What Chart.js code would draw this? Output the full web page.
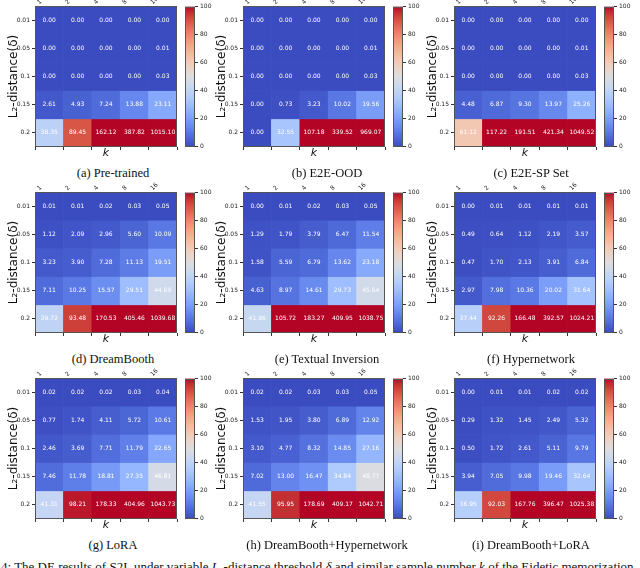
<!DOCTYPE html>
<html><head><meta charset="utf-8">
<script src="https://cdn.jsdelivr.net/npm/chart.js@4.4.0/dist/chart.umd.min.js"></script>
<style>
body{margin:0;width:640px;height:568px;overflow:hidden;background:#fff;position:relative;}
canvas{position:absolute;}
.cap{position:absolute;font-family:'Liberation Serif','Times New Roman',serif;font-size:12.5px;line-height:14px;color:#111;white-space:nowrap;transform:translateX(-50%);}
.main{position:absolute;left:1px;top:560px;font-family:'Liberation Serif','Times New Roman',serif;font-size:13px;line-height:14px;color:#111;white-space:nowrap;}
</style></head><body>
<script>
// ---------- data ----------
const kLabels = ['1','2','4','8','16'];
const deltaLabels = ['0.01','0.05','0.1','0.15','0.2'];
const colorbarTicks = [0,20,40,60,80,100];

const preTrained = [
 [0.00,0.00,0.00,0.00,0.00],
 [0.00,0.00,0.00,0.00,0.01],
 [0.00,0.00,0.00,0.00,0.03],
 [2.61,4.93,7.24,13.88,23.11],
 [38.35,89.45,162.12,387.82,1015.10]];
const e2eOOD = [
 [0.00,0.00,0.00,0.00,0.00],
 [0.00,0.00,0.00,0.00,0.01],
 [0.00,0.00,0.00,0.00,0.03],
 [0.00,0.73,3.23,10.02,19.56],
 [0.00,32.55,107.18,339.52,969.07]];
const e2eSPSet = [
 [0.00,0.00,0.00,0.00,0.00],
 [0.00,0.00,0.00,0.00,0.01],
 [0.00,0.00,0.00,0.00,0.03],
 [4.48,6.87,9.30,13.97,25.26],
 [61.12,117.22,191.51,421.34,1049.52]];
const dreamBooth = [
 [0.01,0.01,0.02,0.03,0.05],
 [1.12,2.09,2.96,5.60,10.09],
 [3.23,3.90,7.28,11.13,19.51],
 [7.11,10.25,15.57,29.51,44.69],
 [39.72,93.48,170.53,405.46,1039.68]];
const textualInversion = [
 [0.00,0.01,0.02,0.03,0.05],
 [1.29,1.79,3.79,6.47,11.54],
 [1.58,5.59,6.79,13.62,23.18],
 [4.63,8.97,14.61,29.73,45.64],
 [41.96,105.72,183.27,409.95,1038.75]];
const hypernetwork = [
 [0.00,0.01,0.01,0.01,0.01],
 [0.49,0.64,1.12,2.19,3.57],
 [0.47,1.70,2.13,3.91,6.84],
 [2.97,7.98,10.36,20.02,31.64],
 [37.44,92.26,166.48,392.57,1024.21]];
const loRA = [
 [0.02,0.02,0.02,0.03,0.04],
 [0.77,1.74,4.11,5.72,10.61],
 [2.46,3.69,7.71,11.79,22.65],
 [7.46,11.78,18.81,27.35,46.81],
 [41.31,98.21,178.33,404.96,1043.73]];
const dreamBoothHyper = [
 [0.02,0.02,0.03,0.03,0.05],
 [1.53,1.95,3.80,6.89,12.92],
 [3.10,4.77,8.32,14.85,27.16],
 [7.02,13.00,16.47,34.84,48.77],
 [41.55,95.95,178.69,409.17,1042.71]];
const dreamBoothLoRA = [
 [0.00,0.01,0.01,0.02,0.02],
 [0.29,1.32,1.45,2.49,5.32],
 [0.50,1.72,2.61,5.11,9.79],
 [3.94,7.05,9.98,19.46,32.64],
 [36.95,92.03,167.76,396.47,1025.38]];

const panelTitles = ['(a) Pre-trained','(b) E2E-OOD','(c) E2E-SP Set',
  '(d) DreamBooth','(e) Textual Inversion','(f) Hypernetwork',
  '(g) LoRA','(h) DreamBooth+Hypernetwork','(i) DreamBooth+LoRA'];
const panelValues = [preTrained,e2eOOD,e2eSPSet,dreamBooth,textualInversion,hypernetwork,loRA,dreamBoothHyper,dreamBoothLoRA];

// ---------- layout ----------
const colLeft = [35,243,454];
const rowTop = [6,192,378];
const capCenter = [113,327,531];
const HM_W = 142, HM_H = 141;

// matplotlib coolwarm (Moreland) control points
const CW = [[59,76,192],[68,90,204],[77,104,215],[87,117,225],[98,130,234],[108,142,241],[119,154,247],[130,165,251],[141,176,254],[152,185,255],[163,194,255],[174,201,253],[184,208,249],[194,213,244],[204,217,238],[213,219,230],[221,221,221],[229,216,209],[236,211,197],[241,204,185],[245,196,173],[247,187,160],[247,177,148],[247,166,135],[244,154,123],[241,141,111],[236,127,99],[229,112,88],[222,96,77],[213,80,66],[203,62,56],[192,40,47],[180,4,38]];
function coolwarm(v){
  const lo = colorbarTicks[0], hi = colorbarTicks[colorbarTicks.length-1];
  let t = (v-lo)/(hi-lo); t = Math.max(0,Math.min(1,t));
  const p = t*(CW.length-1); const i = Math.min(CW.length-2, Math.floor(p)); const f = p-i;
  const c = CW[i].map((a,k)=>Math.round(a+(CW[i+1][k]-a)*f));
  return `rgb(${c[0]},${c[1]},${c[2]})`;
}

const framePlugin = { id:'frame', afterDatasetsDraw(chart){
  const c = chart.ctx, a = chart.chartArea;
  c.save();
  if (chart.config.options.cellText) {
    c.font = '6px "DejaVu Sans"'; c.fillStyle = '#ffffff'; c.textAlign = 'center'; c.textBaseline = 'middle';
    chart.data.datasets.forEach((ds,i)=>{
      chart.getDatasetMeta(i).data.forEach((el,j)=>{
        c.fillText(ds.values[j].toFixed(2), el.x, (el.y+el.base)/2);
      });
    });
  }
  c.strokeStyle = '#555'; c.lineWidth = 1;
  c.strokeRect(Math.round(a.left)+0.5, Math.round(a.top)+0.5, Math.round(a.right-a.left)-1, Math.round(a.bottom-a.top)-1);
  c.restore();
}};

const tickFont = {family:'DejaVu Sans', size:6};

function addCanvas(left, top, w, h){
  const cv = document.createElement('canvas');
  cv.width = w; cv.height = h; cv.style.left = left+'px'; cv.style.top = top+'px';
  cv.style.width = w+'px'; cv.style.height = h+'px';
  document.body.appendChild(cv);
  return cv;
}

function makeHeatmap(L, T, values){
  const cv = addCanvas(L-40, T-22, 40+HM_W+4, 22+HM_H+13);
  new Chart(cv, {
    type:'bar',
    data:{ labels:kLabels, datasets: deltaLabels.map((d,r)=>({
      label:d, data:kLabels.map(()=>[r-0.5, r+0.5]), values:values[r],
      backgroundColor: values[r].map(v=>coolwarm(v)), borderWidth:0,
      grouped:false, barPercentage:1, categoryPercentage:1 })) },
    options:{
      responsive:false, animation:false, events:[], devicePixelRatio:1, cellText:true,
      layout:{padding:{left:0,right:4,top:0,bottom:0}},
      plugins:{legend:{display:false}, tooltip:{enabled:false}},
      scales:{
        x:{ type:'category', position:'bottom', offset:true,
            grid:{display:true, drawOnChartArea:false, drawTicks:true, tickLength:3, color:'#333'},
            border:{display:false}, ticks:{display:false},
            title:{display:true, text:'k', color:'#111', padding:0, font:{family:'DejaVu Sans', size:11, style:'italic'}},
            afterFit:s=>{s.height=13;} },
        x2:{ type:'category', position:'top', offset:true, grid:{display:false}, border:{display:false},
            ticks:{minRotation:45, maxRotation:45, padding:-8, labelOffset:-6, font:tickFont, color:'#222'},
            afterFit:s=>{s.height=22;} },
        y:{ type:'linear', position:'left', reverse:true, min:-0.5, max:deltaLabels.length-0.5,
            afterBuildTicks:s=>{ s.ticks = deltaLabels.map((_,i)=>({value:i})); },
            grid:{drawOnChartArea:false, drawTicks:true, tickLength:3, color:'#333'}, border:{display:false},
            ticks:{font:tickFont, color:'#222', padding:2, callback:v=>deltaLabels[v]},
            title:{display:true, text:'L\u2082-distance(\u03b4)', color:'#111', padding:{top:12,bottom:0}, font:{family:'DejaVu Sans', size:12}},
            afterFit:s=>{s.width=40;} }
      }
    },
    plugins:[framePlugin]
  });
}

function makeColorbar(L, T){
  const cv = addCanvas(L, T-5, 36, HM_H+10);
  new Chart(cv, {
    type:'bar',
    data:{ labels:[''], datasets:[{ data:[[colorbarTicks[0], colorbarTicks[colorbarTicks.length-1]]],
      borderWidth:0, barPercentage:1, categoryPercentage:1,
      backgroundColor:(ctx)=>{
        const ch = ctx.chart, a = ch.chartArea; if(!a) return '#888';
        const g = ch.ctx.createLinearGradient(0, a.bottom, 0, a.top);
        CW.forEach((c,i)=>g.addColorStop(i/(CW.length-1), `rgb(${c[0]},${c[1]},${c[2]})`));
        return g;
      } }] },
    options:{
      responsive:false, animation:false, events:[], devicePixelRatio:1,
      layout:{padding:{left:0,right:0,top:5,bottom:5}},
      plugins:{legend:{display:false}, tooltip:{enabled:false}},
      scales:{
        x:{display:false},
        y:{ position:'right', min:colorbarTicks[0], max:colorbarTicks[colorbarTicks.length-1],
            afterBuildTicks:s=>{ s.ticks = colorbarTicks.map(v=>({value:v})); },
            grid:{drawOnChartArea:false, drawTicks:true, tickLength:3, color:'#333'}, border:{display:false},
            ticks:{font:tickFont, color:'#222', padding:2},
            afterFit:s=>{s.width=26;} }
      }
    },
    plugins:[framePlugin]
  });
}

panelValues.forEach((vals, idx)=>{
  const col = idx%3, row = Math.floor(idx/3);
  const L = colLeft[col], T = rowTop[row];
  makeHeatmap(L, T, vals);
  makeColorbar(L+HM_W+8, T);
  const cap = document.createElement('div');
  cap.className = 'cap'; cap.textContent = panelTitles[idx];
  cap.style.left = capCenter[col]+'px'; cap.style.top = (T+160)+'px';
  document.body.appendChild(cap);
});

const main = document.createElement('div');
main.className = 'main';
main.innerHTML = '4: The DE results of S2L under variable <i>L</i><sub style="font-size:9px;line-height:0">2</sub>-distance threshold <i>\u03b4</i> and similar sample number <i>k</i> of the Eidetic memorization';
document.body.appendChild(main);
</script>
</body></html>
